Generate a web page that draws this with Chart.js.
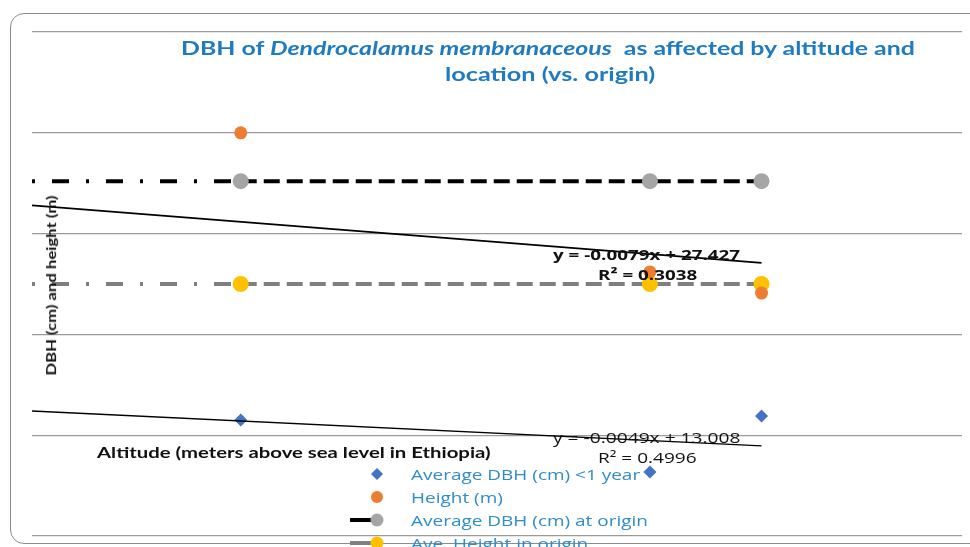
<!DOCTYPE html>
<html>
<head>
<meta charset="utf-8">
<script src="https://cdn.jsdelivr.net/npm/chart.js@4.4.1/dist/chart.umd.min.js"></script>
<style>
  html, body { margin: 0; padding: 0; background: #fff; }
  #wrap { position: relative; width: 970px; height: 547px; overflow: hidden; background: #fff; }
  #frame { position: absolute; left: 10px; top: 13px; width: 990px; height: 531px; border: 1.5px solid #8c8c8c; border-radius: 14px; box-sizing: border-box; }
  canvas { position: absolute; left: 0; top: 0; }
  .t { position: absolute; white-space: nowrap; left: 0; top: 0; line-height: 1.2; }
  .ti { font: bold 19px Lato, "Open Sans", sans-serif; color: #1f7bc1; }
  .eq { font-family: "Open Sans", sans-serif; font-size: 15px; color: #111; }
  .ax { font: bold 15px Lato, sans-serif; color: #111; }
  .lg { font: 15px "Open Sans", sans-serif; color: #2f8ccb; }
  .mk { position: absolute; }
</style>
</head>
<body>
<div id="wrap">
  <div id="frame"></div>
  <canvas id="c" width="970" height="547"></canvas>
  <div id="ti1" class="t ti">DBH of <i>Dendrocalamus membranaceous</i>&nbsp; as affected by altitude and</div>
  <div id="ti2" class="t ti">location (vs. origin)</div>
  <div id="eq1" class="t eq" style="font-weight:bold;">y = -0.0079x + 27.427</div>
  <div id="r1" class="t eq" style="font-weight:bold;">R² = 0.3038</div>
  <div id="eq2" class="t eq">y = -0.0049x + 13.008</div>
  <div id="r2" class="t eq">R² = 0.4996</div>
  <div id="xt" class="t ax">Altitude (meters above sea level in Ethiopia)</div>
  <div id="yt" class="t ax" style="font-size:14px;">DBH (cm) and height (m)</div>
  <div id="legend"></div>
</div>
<script>
// ---- data ----
const altitude = [1501, 1699, 1753];                // m a.s.l.
const dbhYoung = [5.75, 3.17, 5.95];                // Average DBH (cm) <1 year
const heightM = [20.0, 13.1, 12.05];                // Height (m)
const originX = [1400, 1501, 1699, 1753];           // origin reference lines
const dbhOrigin = [17.6, 17.6, 17.6, 17.6];         // Average DBH (cm) at origin
const heightOrigin = [12.5, 12.5, 12.5, 12.5];      // Ave. Height in origin
const trendX = [1400, 1753];
const heightTrend = [16.4, 13.55];                  // y = -0.0079x + 27.427
const dbhTrend = [6.2, 4.47];                       // y = -0.0049x + 13.008
const yTicks = [0, 5, 10, 15, 20, 25];
const legendLabels = ["Average DBH (cm) <1 year", "Height (m)", "Average DBH (cm) at origin", "Ave. Height in origin"];

const pts = (xs, ys) => xs.map((x, i) => ({ x: x, y: ys[i] }));

const dashDot = [3, 17, 17, 17];
const dashes = [16, 7];

new Chart(document.getElementById('c'), {
  type: 'scatter',
  data: {
    datasets: [
      { label: 'trend height', type: 'line', data: pts(trendX, heightTrend), borderColor: '#000', borderWidth: 1.6, pointRadius: 0, fill: false },
      { label: 'trend dbh', type: 'line', data: pts(trendX, dbhTrend), borderColor: '#000', borderWidth: 1.3, pointRadius: 0, fill: false },
      { label: legendLabels[2], type: 'line', data: pts(originX, dbhOrigin), borderColor: '#000', borderWidth: 4,
        pointRadius: [0, 8, 8, 8], pointBackgroundColor: '#a5a5a5', pointBorderWidth: 0, fill: false,
        segment: { borderDash: ctx => ctx.p0DataIndex === 0 ? dashDot : dashes } },
      { label: legendLabels[0], data: pts(altitude, dbhYoung), pointStyle: 'rectRot', pointRadius: 6.5, backgroundColor: '#4472c4', borderWidth: 0 },
      { label: legendLabels[1], data: pts(altitude, heightM), pointStyle: 'circle', pointRadius: 6.5, backgroundColor: '#ed7d31', borderWidth: 0 },
      { label: legendLabels[3], type: 'line', data: pts(originX, heightOrigin), borderColor: '#7f7f7f', borderWidth: 4,
        pointRadius: [0, 8, 8, 8], pointBackgroundColor: '#ffc000', pointBorderWidth: 0, fill: false,
        segment: { borderDash: ctx => ctx.p0DataIndex === 0 ? dashDot : dashes } }
    ]
  },
  options: {
    responsive: false,
    animation: false,
    layout: { padding: { left: 32, right: 8, top: 32, bottom: 11 } },
    plugins: { legend: { display: false }, title: { display: false }, tooltip: { enabled: false } },
    scales: {
      x: { type: 'linear', min: 1400, max: 1850, display: false },
      y: { min: 0, max: 25, afterBuildTicks: s => { s.ticks = yTicks.map(v => ({ value: v })); },
           ticks: { display: false }, border: { display: false },
           grid: { color: '#9a9a9a', lineWidth: 1.2, drawTicks: false } }
    }
  }
});

// HTML legend
const lg = document.getElementById('legend');
const rowsY = [474, 497, 520, 543];
const markers = [
  '<svg width="40" height="16"><polygon points="27,2 33,8 27,14 21,8" fill="#4472c4"/></svg>',
  '<svg width="40" height="16"><circle cx="27" cy="8" r="6" fill="#ed7d31"/></svg>',
  '<svg width="40" height="16"><line x1="0" y1="8" x2="30" y2="8" stroke="#000" stroke-width="4"/><circle cx="27" cy="8" r="6.5" fill="#a5a5a5"/></svg>',
  '<svg width="40" height="16"><line x1="0" y1="8" x2="30" y2="8" stroke="#7f7f7f" stroke-width="4"/><circle cx="27" cy="8" r="6.5" fill="#ffc000"/></svg>'
];
const legendEls = [];
legendLabels.forEach((t, i) => {
  const m = document.createElement('div');
  m.className = 'mk'; m.style.left = '350px'; m.style.top = (rowsY[i] - 8) + 'px';
  m.innerHTML = markers[i];
  lg.appendChild(m);
  const d = document.createElement('div');
  d.className = 't lg'; d.textContent = t;
  document.getElementById('wrap').appendChild(d);
  legendEls.push(d);
});

// place text: stretch horizontally to the reference width
function place(el, cx, cy, w, rot) {
  const nw = el.offsetWidth, nh = el.offsetHeight, k = w / nw;
  if (rot) {
    el.style.left = (cx - nw / 2) + 'px';
    el.style.top = (cy - nh / 2) + 'px';
    el.style.transformOrigin = '50% 50%';
    el.style.transform = 'rotate(-90deg) scaleX(' + k + ')';
  } else {
    el.style.left = (cx - w / 2) + 'px';
    el.style.top = (cy - nh / 2) + 'px';
    el.style.transformOrigin = '0 0';
    el.style.transform = 'scaleX(' + k + ')';
  }
  return k;
}
const $ = id => document.getElementById(id);
place($('ti1'), 548, 47, 734);
place($('ti2'), 550, 73, 210);
place($('eq1'), 646.5, 254, 187);
place($('r1'), 647.5, 274, 99);
place($('eq2'), 647, 437, 188);
place($('r2'), 647.5, 457, 99);
place($('xt'), 294, 452, 394);
place($('yt'), 50, 285, 180, true);
const kL = 229 / legendEls[0].offsetWidth;
legendEls.forEach((el, i) => {
  const w = el.offsetWidth * kL;
  place(el, 411 + w / 2, rowsY[i], w);
});
</script>
</body>
</html>
